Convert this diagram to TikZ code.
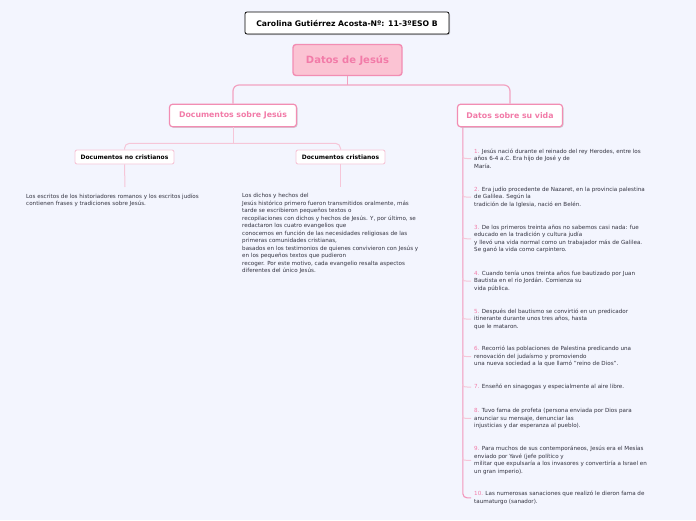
\documentclass[tikz,border=0pt]{standalone}
\usepackage{fontspec}
\setmainfont{DejaVu Sans}
\usetikzlibrary{shadows,calc}
\definecolor{bgc}{HTML}{F3F5FE}
\definecolor{pinkline}{HTML}{F2A3C1}
\definecolor{pinklight}{HTML}{F6C6D8}
\definecolor{pinkspine}{HTML}{F296BB}
\definecolor{pinktext}{HTML}{F27BA8}
\definecolor{rootfill}{HTML}{FBC3D3}
\definecolor{rootdraw}{HTML}{F28DB3}
\definecolor{bodytext}{HTML}{333340}
\newcommand{\bodyfont}{\fontsize{5.6}{7.55}\selectfont}
\newcommand{\nm}[1]{\textcolor{pinktext}{#1}}
\tikzset{
  titlebox/.style={draw=black, line width=0.8pt, fill=white, rounded corners=2pt,
    minimum width=204pt, minimum height=22pt, inner sep=0pt,
    font=\fontsize{7.7}{9}\selectfont\bfseries,
    drop shadow={shadow xshift=1pt, shadow yshift=-1pt, opacity=0.35}},
  rootbox/.style={draw=rootdraw, line width=1.4pt, fill=rootfill, rounded corners=3pt,
    minimum width=109pt, minimum height=31pt, inner sep=0pt, text=pinktext,
    font=\fontsize{10}{12}\selectfont\bfseries},
  mainbox/.style={draw=rootdraw, line width=1.2pt, fill=white, rounded corners=3pt,
    minimum height=22.5pt, inner sep=0pt, text=pinktext,
    font=\fontsize{7.8}{9}\selectfont\bfseries,
    drop shadow={shadow xshift=1pt, shadow yshift=-1pt, opacity=0.3}},
  subbox/.style={draw=pinklight, line width=0.9pt, fill=white, rounded corners=2pt,
    minimum height=14pt, inner sep=0pt, text=black,
    font=\fontsize{6}{7}\selectfont\bfseries},
  leaf/.style={anchor=north west, inner sep=0pt, align=left, text=bodytext, font=\bodyfont},
  c1/.style={draw=pinkline, line width=1.2pt, rounded corners=6pt},
  c2/.style={draw=pinklight, line width=1pt, rounded corners=5pt},
  spine/.style={draw=pinkspine, line width=1.1pt},
  tick/.style={draw=pinklight, line width=1pt},
}
\begin{document}
\begin{tikzpicture}[x=1pt,y=-1pt]
\fill[bgc] (0,0) rectangle (696,520);
\useasboundingbox (0,0) rectangle (696,520);

\node[titlebox] (title) at (347,23) {Carolina Gutiérrez Acosta-Nº: 11-3ºESO B};
\node[rootbox] (root) at (347.5,60) {Datos de Jesús};
\node[mainbox, minimum width=127pt] (doc) at (233,115.5) {Documentos sobre Jesús};
\node[mainbox, minimum width=105pt] (vida) at (510,115.5) {Datos sobre su vida};
\node[subbox, minimum width=99pt] (nocr) at (124.5,157) {Documentos no cristianos};
\node[subbox, minimum width=89pt] (cr) at (340.5,157) {Documentos cristianos};

% level 1 connectors
\coordinate (j1) at (347.5,85);
\draw[c1] (root.south) -- (j1);
\draw[c1] (doc.north) |- (j1) -| (vida.north);

% level 2 connectors
\coordinate (j2) at (233,143.3);
\draw[c2] (doc.south) -- (j2);
\draw[c2] (nocr.north) |- (j2) -| (cr.north);

% leaves of documents
\node[leaf] (l1) at (26,193.5) {Los escritos de los historiadores romanos y los escritos judíos\\contienen frases y tradiciones sobre Jesús.};
\node[leaf] (l2) at (242,193) {Los dichos y hechos del\\Jesús histórico primero fueron transmitidos oralmente, más\\tarde se escribieron pequeños textos o\\recopilaciones con dichos y hechos de Jesús. Y, por último, se\\redactaron los cuatro evangelios que\\conocemos en función de las necesidades religiosas de las\\primeras comunidades cristianas,\\basados en los testimonios de quienes convivieron con Jesús y\\en los pequeños textos que pudieron\\recoger. Por este motivo, cada evangelio resalta aspectos\\diferentes del único Jesús.};
\coordinate (e1) at (125,187);
\coordinate (e2) at (340.5,187);
\draw[c2] (nocr.south) -- (e1);
\draw[c2] (cr.south) -- (e2);

% items of Datos sobre su vida
\node[leaf] (i1) at (474,148.5) {\nm{1.} Jesús nació durante el reinado del rey Herodes, entre los\\años 6-4 a.C. Era hijo de José y de\\María.};
\node[leaf] (i2) at (474,186.5) {\nm{2.} Era judío procedente de Nazaret, en la provincia palestina\\de Galilea. Según la\\tradición de la Iglesia, nació en Belén.};
\node[leaf] (i3) at (474,224.5) {\nm{3.} De los primeros treinta años no sabemos casi nada: fue\\educado en la tradición y cultura judía\\y llevó una vida normal como un trabajador más de Galilea.\\Se ganó la vida como carpintero.};
\node[leaf] (i4) at (474,270.5) {\nm{4.} Cuando tenía unos treinta años fue bautizado por Juan\\Bautista en el río Jordán. Comienza su\\vida pública.};
\node[leaf] (i5) at (474,308.5) {\nm{5.} Después del bautismo se convirtió en un predicador\\itinerante durante unos tres años, hasta\\que le mataron.};
\node[leaf] (i6) at (474,346) {\nm{6.} Recorrió las poblaciones de Palestina predicando una\\renovación del judaísmo y promoviendo\\una nueva sociedad a la que llamó "reino de Dios".};
\node[leaf] (i7) at (474,384) {\nm{7.} Enseñó en sinagogas y especialmente al aire libre.};
\node[leaf] (i8) at (474,408) {\nm{8.} Tuvo fama de profeta (persona enviada por Dios para\\anunciar su mensaje, denunciar las\\injusticias y dar esperanza al pueblo).};
\node[leaf] (i9) at (474,446) {\nm{9.} Para muchos de sus contemporáneos, Jesús era el Mesías\\enviado por Yavé (jefe político y\\militar que expulsaría a los invasores y convertiría a Israel en\\un gran imperio).};
\node[leaf] (i10) at (474,491) {\nm{10.} Las numerosas sanaciones que realizó le dieron fama de\\taumaturgo (sanador).};

\coordinate (sp) at ($(vida.south west)+(6,0)$);
\draw[spine, rounded corners=4pt] (sp) -- (sp |- i10.west) -- ($(i10.west)+(-3,0)$);
\foreach \i in {1,...,9}{
  \draw[tick] ($(sp |- i\i.west)+(0,-3)$) .. controls (sp |- i\i.west) .. ($(i\i.west)+(-3,0)$);
}
\end{tikzpicture}
\end{document}
